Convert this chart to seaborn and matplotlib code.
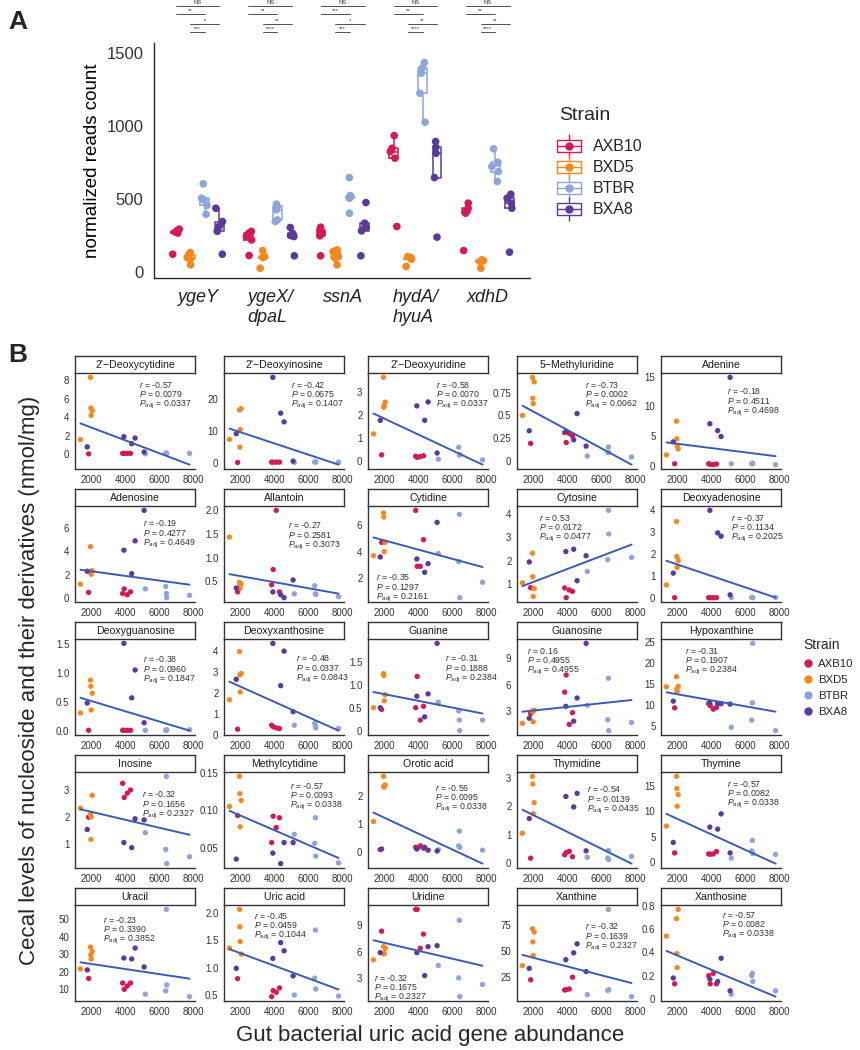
import numpy as np
import pandas as pd
import matplotlib.pyplot as plt
import matplotlib.transforms as mtransforms
from matplotlib.lines import Line2D
from matplotlib.path import Path
import seaborn as sns

sns.set_style("white")
plt.rcParams['font.family'] = ['Liberation Sans', 'DejaVu Sans']
plt.rcParams['mathtext.fontset'] = 'custom'
plt.rcParams['mathtext.rm'] = 'Liberation Sans'
plt.rcParams['mathtext.it'] = 'Liberation Sans:italic'

strains = ["AXB10", "BXD5", "BTBR", "BXA8"]
strain_colors = ["#D41A55", "#F5891F", "#8EA5DA", "#5C3A9A"]
line_color = "#3B5CB5"

# ---- panel A: normalized reads count, 5 mice per strain (AXB10, BXD5, BTBR, BXA8)
genes = ["ygeY", "ygeX/\ndpaL", "ssnA", "hydA/\nhyuA", "xdhD"]
reads_ygeY = [[123, 268, 275, 285, 295], [50, 88, 100, 120, 135],
              [397, 457, 495, 507, 605], [123, 280, 313, 347, 438]]
reads_ygeX = [[114, 221, 244, 267, 279], [27, 100, 105, 110, 148],
              [347, 358, 427, 450, 466], [112, 244, 251, 267, 306]]
reads_ssnA = [[112, 249, 267, 290, 308], [50, 96, 107, 142, 153],
              [404, 507, 518, 525, 648], [112, 283, 306, 336, 477]]
reads_hydA = [[313, 781, 826, 849, 936], [39, 88, 95, 100, 107],
              [1027, 1226, 1363, 1400, 1436], [240, 648, 815, 856, 895]]
reads_xdhD = [[148, 404, 416, 438, 473], [27, 73, 78, 80, 84],
              [621, 689, 724, 753, 845], [137, 438, 473, 507, 534]]
sig_labels = [["NS", "**", "*", "***"],
              ["NS", "**", "**", "****"],
              ["NS", "***", "*", "***"],
              ["NS", "**", "**", "****"],
              ["NS", "**", "**", "****"]]

# ---- panel B: gene abundance per mouse
abund_AXB10 = [1830, 3830, 3920, 4100, 4290]
abund_BXD5 = [1350, 1940, 1960, 1980, 2040]
abund_BTBR = [5160, 6360, 6400, 6420, 7760]
abund_BXA8 = [1750, 3900, 4360, 4560, 5090]

# metabolite levels, order AXB10 x5, BXD5 x5, BTBR x5, BXA8 x5
deoxycytidine = [0.05, 0.1, 0.1, 0.1, 0.1, 1.6, 8.3, 5.0, 4.2, 4.7,
                 0.05, 0.1, 0.15, 0.1, 0.1, 0.8, 1.9, 1.15, 1.75, 0.25]
deoxyinosine = [0.1, 0.2, 0.2, 0.2, 0.2, 7.3, 16.5, 4.9, 10.4, 16.9,
                0.1, 0.2, 0.3, 0.2, 0.2, 9.1, 26.7, 15.5, 12.8, 0.5]
deoxyuridine = [0.26, 0.2, 0.15, 0.18, 0.22, 1.17, 3.63, 2.33, 2.4, 2.55,
                0.07, 0.59, 0.25, 0.27, 0.04, 1.76, 2.39, 1.76, 2.56, 0.34]
methyluridine = [0.19, 0.31, 0.20, 0.30, 0.27, 0.50, 0.92, 0.69, 0.63, 0.87,
                 0.05, 0.09, 0.15, 0.09, 0.04, 0.33, 0.32, 0.23, 0.52, 0.16]
adenine = [0.3, 0.3, 0.2, 0.15, 0.25, 1.8, 7.5, 4.5, 3.3, 2.8,
           0.3, 0.3, 0.4, 0.3, 0.15, 4.0, 7.05, 5.9, 4.9, 14.9]
adenosine = [0.5, 0.4, 0.8, 0.3, 0.55, 1.2, 4.4, 2.3, 2.05, 2.35,
             0.8, 1.0, 0.4, 0.05, 0.25, 2.3, 4.1, 2.1, 4.9, 7.5]
allantoin = [0.28, 0.43, 0.75, 1.99, 0.28, 1.43, 0.48, 0.44, 0.36, 0.45,
             0.24, 0.41, 0.24, 0.23, 0.18, 0.36, 0.28, 0.22, 0.16, 0.53]
cytidine = [4.7, 7.1, 2.9, 2.9, 4.9, 3.7, 6.9, 6.6, 4.0, 4.7,
            3.86, 3.25, 6.8, 0.55, 1.7, 3.6, 3.45, 2.45, 3.1, 6.2]
cytosine = [0.83, 0.82, 0.4, 0.73, 0.67, 1.04, 2.32, 1.3, 0.45, 0.79,
            1.53, 2.04, 4.17, 3.15, 2.14, 1.94, 2.39, 2.49, 1.13, 2.21]
deoxyadenosine = [0.01, 0.01, 0.01, 0.01, 0.01, 0.59, 3.49, 1.89, 1.39, 1.71,
                  0.01, 0.02, 0.02, 0.01, 0.02, 1.13, 4.0, 2.97, 2.82, 0.14]
deoxyguanosine = [0.01, 0.01, 0.01, 0.01, 0.01, 0.31, 0.875, 0.77, 0.36, 0.65,
                  0.01, 0.01, 0.02, 0.01, 0.02, 0.48, 1.51, 0.57, 1.05, 0.14]
deoxyxanthosine = [0.27, 0.46, 0.39, 0.33, 0.3, 1.67, 3.96, 2.85, 2.04, 2.92,
                   0.46, 0.56, 0.44, 0.33, 0.3, 2.64, 4.35, 2.34, 3.98, 1.1]
guanine = [0.47, 0.51, 1.19, 0.24, 0.54, 0.51, 1.25, 1.21, 0.66, 0.79,
           0.63, 0.44, 0.24, 0.01, 0.24, 0.51, 0.76, 0.31, 0.81, 1.91]
guanosine = [2.7, 5.14, 7.09, 1.46, 2.8, 1.57, 3.0, 2.9, 1.76, 3.07,
             3.63, 1.99, 6.72, 0.75, 1.68, 2.17, 3.52, 1.83, 4.47, 10.7]
hypoxanthine = [9.4, 10.4, 9.9, 9.1, 9.5, 14.4, 16.8, 13.9, 13.3, 14.5,
                4.8, 6.5, 10.6, 24.7, 4.0, 11.0, 10.6, 10.4, 10.4, 10.3]
inosine = [1.99, 3.26, 2.73, 2.89, 3.01, 2.33, 2.09, 1.16, 2.0, 2.81,
           1.41, 0.78, 3.52, 0.25, 0.51, 1.53, 1.04, 0.85, 1.93, 1.89]
methylcytidine = [0.093, 0.057, 0.092, 0.077, 0.090, 0.105, 0.145, 0.122, 0.078, 0.113,
                  0.068, 0.056, 0.090, 0.039, 0.030, 0.035, 0.043, 0.029, 0.057, 0.057]
orotic_acid = [0.12, 0.18, 0.14, 0.23, 0.15, 1.09, 2.68, 2.33, 2.3, 2.38,
               0.09, 0.23, 0.75, 0.18, 0.08, 0.1, 0.12, 0.18, 0.08, 0.05]
thymidine = [0.17, 0.29, 0.37, 0.41, 0.22, 1.05, 3.06, 2.79, 1.74, 2.13,
             0.2, 0.17, 0.44, 0.12, 0.23, 1.57, 2.35, 1.98, 2.46, 0.43]
thymine = [1.8, 1.6, 1.55, 1.6, 2.07, 7.1, 16.9, 14.5, 11.0, 13.3,
           0.77, 2.19, 4.25, 1.68, 1.49, 3.87, 6.9, 6.5, 9.5, 1.8]
uracil = [16.2, 13.6, 10.0, 11.9, 13.6, 21.7, 34.2, 29.8, 27.4, 31.7,
          7.2, 9.1, 55.8, 12.5, 5.8, 21.1, 27.9, 27.4, 33.6, 22.8]
uric_acid = [0.8, 0.47, 0.58, 0.55, 0.63, 1.36, 2.07, 1.75, 1.48, 1.25,
             0.5, 0.81, 1.69, 0.61, 0.48, 0.99, 1.17, 1.46, 1.31, 0.85]
uridine = [8.32, 10.8, 10.8, 6.37, 7.98, 5.06, 6.56, 5.73, 5.8, 6.37,
           4.42, 3.0, 9.55, 0.87, 2.25, 5.88, 5.88, 3.26, 6.56, 6.67]
xanthine = [22.5, 12.7, 13.0, 13.6, 25.0, 36.1, 71.5, 58.9, 45.9, 68.4,
            8.2, 12.3, 90.2, 13.0, 6.3, 33.5, 41.8, 48.4, 57.0, 30.4]
xanthosine = [0.13, 0.2, 0.13, 0.22, 0.13, 0.54, 0.69, 0.39, 0.27, 0.77,
              0.04, 0.2, 0.22, 0.15, 0.07, 0.18, 0.17, 0.15, 0.35, 0.07]

metabolites = [
    ("2'\u2212Deoxycytidine", deoxycytidine), ("2'\u2212Deoxyinosine", deoxyinosine),
    ("2'\u2212Deoxyuridine", deoxyuridine), ("5\u2212Methyluridine", methyluridine),
    ("Adenine", adenine), ("Adenosine", adenosine), ("Allantoin", allantoin),
    ("Cytidine", cytidine), ("Cytosine", cytosine), ("Deoxyadenosine", deoxyadenosine),
    ("Deoxyguanosine", deoxyguanosine), ("Deoxyxanthosine", deoxyxanthosine),
    ("Guanine", guanine), ("Guanosine", guanosine), ("Hypoxanthine", hypoxanthine),
    ("Inosine", inosine), ("Methylcytidine", methylcytidine), ("Orotic acid", orotic_acid),
    ("Thymidine", thymidine), ("Thymine", thymine), ("Uracil", uracil),
    ("Uric acid", uric_acid), ("Uridine", uridine), ("Xanthine", xanthine),
    ("Xanthosine", xanthosine),
]

r_vals = ["-0.57", "-0.42", "-0.58", "-0.73", "-0.18", "-0.19", "-0.27", "-0.35", "0.53",
          "-0.37", "-0.38", "-0.48", "-0.31", "0.16", "-0.31", "-0.32", "-0.57", "-0.56",
          "-0.54", "-0.57", "-0.23", "-0.45", "-0.32", "-0.32", "-0.57"]
p_vals = ["0.0079", "0.0675", "0.0070", "0.0002", "0.4511", "0.4277", "0.2581", "0.1297",
          "0.0172", "0.1134", "0.0960", "0.0337", "0.1888", "0.4955", "0.1907", "0.1656",
          "0.0093", "0.0095", "0.0139", "0.0082", "0.3390", "0.0459", "0.1675", "0.1639",
          "0.0082"]
padj_vals = ["0.0337", "0.1407", "0.0337", "0.0062", "0.4698", "0.4649", "0.3073", "0.2161",
             "0.0477", "0.2025", "0.1847", "0.0843", "0.2384", "0.4955", "0.2384", "0.2327",
             "0.0338", "0.0338", "0.0435", "0.0338", "0.3852", "0.1044", "0.2327", "0.2327",
             "0.0338"]

ytick_labels = [
    ["0", "2", "4", "6", "8"], ["0", "10", "20"], ["0", "1", "2", "3"],
    ["0", "0.25", "0.5", "0.75"], ["0", "5", "10", "15"],
    ["0", "2", "4", "6"], ["0.5", "1.0", "1.5", "2.0"], ["2", "4", "6"],
    ["1", "2", "3", "4"], ["0", "1", "2", "3", "4"],
    ["0.0", "0.5", "1.0", "1.5"], ["0", "1", "2", "3", "4"], ["0", "0.5", "1.0", "1.5"],
    ["3", "6", "9"], ["5", "10", "15", "20", "25"],
    ["1", "2", "3"], ["0.05", "0.10", "0.15"], ["0", "1", "2"], ["0", "1", "2", "3"],
    ["0", "5", "10", "15"],
    ["10", "20", "30", "40", "50"], ["0.5", "1.0", "1.5", "2.0"], ["3", "6", "9"],
    ["25", "50", "75"], ["0", "0.2", "0.4", "0.6", "0.8"],
]

# where the r / P / Padj block sits inside each panel (axes fraction, top-left)
stat_pos = [(0.53, 0.93), (0.56, 0.93), (0.57, 0.93), (0.57, 0.93), (0.55, 0.86),
            (0.57, 0.87), (0.53, 0.85), (0.07, 0.31), (0.18, 0.93), (0.58, 0.93),
            (0.57, 0.84), (0.60, 0.85), (0.64, 0.85), (0.08, 0.93), (0.20, 0.93),
            (0.56, 0.82), (0.55, 0.91), (0.56, 0.89), (0.58, 0.87), (0.55, 0.93),
            (0.23, 0.90), (0.25, 0.94), (0.05, 0.295), (0.57, 0.83), (0.51, 0.95)]

W, H = 860, 1050
fig = plt.figure(figsize=(W / 100, H / 100), dpi=100)
ink = "#262626"

# ================= panel A =================
rows = []
for g, vals in zip(genes, [reads_ygeY, reads_ygeX, reads_ssnA, reads_hydA, reads_xdhD]):
    for s, v in zip(strains, vals):
        for x in v:
            rows.append((g, s, x))
dfA = pd.DataFrame(rows, columns=["gene", "strain", "reads"])

axA = fig.add_axes([154 / W, 1 - 278 / H, (530 - 154) / W, (278 - 43) / H])
sns.boxplot(data=dfA, x="gene", y="reads", hue="strain", order=genes, hue_order=strains,
            palette=strain_colors, fill=False, width=0.8, gap=0.4, showfliers=False,
            showcaps=False, linewidth=1.1, legend=False, ax=axA)
np.random.seed(7)
sns.stripplot(data=dfA, x="gene", y="reads", hue="strain", order=genes, hue_order=strains,
              palette=strain_colors, dodge=True, jitter=0.2, size=5.5, linewidth=0,
              legend=False, ax=axA)
axA.set_xlim(-0.6, 4.58)
axA.set_ylim(-40, 1570)
axA.set_yticks([0, 500, 1000, 1500])
axA.set_xlabel("")
axA.set_ylabel("normalized reads count", fontsize=13.5, color="black")
for side in ["top", "right"]:
    axA.spines[side].set_visible(False)
for side in ["left", "bottom"]:
    axA.spines[side].set_color(ink)
    axA.spines[side].set_linewidth(1.0)
axA.tick_params(axis="both", length=4, width=0.9, color=ink, labelsize=12, labelcolor="#333333")
axA.tick_params(axis="x", pad=4)
for lab in axA.get_xticklabels():
    lab.set_fontstyle("italic")
    lab.set_fontsize(13)
    lab.set_color("#222222")
    lab.set_multialignment("left")
    lab.set_verticalalignment("top")

# significance brackets above panel A
trans = mtransforms.blended_transform_factory(axA.transData, fig.transFigure)
offs = [-0.3, -0.1, 0.1, 0.3]
pairs = [(0, 3), (0, 2), (1, 3), (1, 2)]
line_px = [6, 14, 24, 32]
for gi in range(len(genes)):
    for k, (a, b) in enumerate(pairs):
        x0, x1 = gi + offs[a], gi + offs[b]
        yy = 1 - line_px[k] / H
        fig.add_artist(Line2D([x0, x1], [yy, yy], transform=trans, color="#333333", lw=0.6))
        fig.text((x0 + x1) / 2, yy + 0.6 / H, sig_labels[gi][k], transform=trans,
                 ha="center", va="bottom", fontsize=4.2, color="#333333")

# legend for panel A with box glyphs
box_marker = Path([(-1, -0.55), (1, -0.55), (1, 0.55), (-1, 0.55), (-1, -0.55),
                   (-1, 0), (1, 0), (0, 0.55), (0, 1), (0, -0.55), (0, -1)],
                  [Path.MOVETO, Path.LINETO, Path.LINETO, Path.LINETO, Path.CLOSEPOLY,
                   Path.MOVETO, Path.LINETO, Path.MOVETO, Path.LINETO, Path.MOVETO, Path.LINETO])
handlesA = []
for col in strain_colors:
    handlesA.append((Line2D([], [], marker=box_marker, ms=17, mfc="none", mec=col, mew=1.0, ls=""),
                     Line2D([], [], marker="o", ms=5, color=col, ls="")))
fig.text(559 / W, 1 - 115 / H, "Strain", fontsize=14, va="center", ha="left")
fig.legend(handlesA, strains, loc="upper left", bbox_to_anchor=(553 / W, 1 - 136 / H),
           frameon=False, fontsize=11.5, handlelength=1.6, handletextpad=0.7,
           labelspacing=0.38, borderaxespad=0, borderpad=0.2)

# ================= panel B =================
abundance = abund_AXB10 + abund_BXD5 + abund_BTBR + abund_BXA8
strain_col = [s for s in strains for _ in range(5)]
col_left = [75, 224, 368, 517, 661]
pw, ph, sh = 120, 96, 17

for i, (name, vals) in enumerate(metabolites):
    r, c = divmod(i, 5)
    left = col_left[c]
    top = 373 + 133 * r
    ax = fig.add_axes([left / W, 1 - (top + ph) / H, pw / W, ph / H])
    d = pd.DataFrame({"abund": abundance, "level": vals, "strain": strain_col})
    sns.scatterplot(data=d, x="abund", y="level", hue="strain", hue_order=strains,
                    palette=strain_colors, s=15, linewidth=0, legend=False, ax=ax)
    sns.regplot(data=d, x="abund", y="level", scatter=False, ci=None, color=line_color,
                line_kws={"lw": 1.4}, ax=ax)
    ax.set_xticks([2000, 4000, 6000, 8000])
    ax.set_xticklabels(["2000", "4000", "6000", "8000"])
    labs = ytick_labels[i]
    ax.set_yticks([float(t) for t in labs])
    ax.set_yticklabels(labs)
    ax.set_xlabel("")
    ax.set_ylabel("")
    for side in ["top", "right"]:
        ax.spines[side].set_visible(False)
    for side in ["left", "bottom"]:
        ax.spines[side].set_color("#333333")
        ax.spines[side].set_linewidth(1.0)
    ax.tick_params(axis="both", length=2.5, width=0.8, color="#333333", labelsize=7,
                   labelcolor="#333333", pad=1.5)
    tx, ty = stat_pos[i]
    ax.text(tx, ty, "$r$ = %s\n$P$ = %s\n$P_{\\rm adj}$ = %s" % (r_vals[i], p_vals[i], padj_vals[i]),
            transform=ax.transAxes, ha="left", va="top", fontsize=6.3, color="#333333",
            linespacing=0.95)

    sax = fig.add_axes([left / W, 1 - top / H, pw / W, sh / H])
    sax.set_xticks([])
    sax.set_yticks([])
    for sp in sax.spines.values():
        sp.set_visible(True)
        sp.set_color("#333333")
        sp.set_linewidth(1.0)
    sax.text(0.5, 0.47, name, ha="center", va="center", fontsize=7.6, color="#1a1a1a",
             transform=sax.transAxes)

handlesB = [Line2D([], [], marker="o", ms=5, color=col, ls="") for col in strain_colors]
fig.legend(handlesB, strains, loc="upper left", bbox_to_anchor=(801 / W, 1 - 636 / H),
           frameon=False, title="Strain", title_fontsize=10, fontsize=8.2,
           handlelength=0.8, handletextpad=0.5, labelspacing=0.55, alignment="left",
           borderaxespad=0, borderpad=0.2)

fig.text(30 / W, 1 - 680 / H, "Cecal levels of nucleoside and their derivatives (nmol/mg)",
         rotation=90, ha="center", va="center", fontsize=16)
fig.text(430 / W, 1 - 1035 / H, "Gut bacterial uric acid gene abundance",
         ha="center", va="center", fontsize=16)

fig.text(8 / W, 1 - 22 / H, "A", fontsize=19, fontweight="bold", va="center", ha="left")
fig.text(8 / W, 1 - 355 / H, "B", fontsize=19, fontweight="bold", va="center", ha="left")

fig.savefig("out.png", dpi=100)
